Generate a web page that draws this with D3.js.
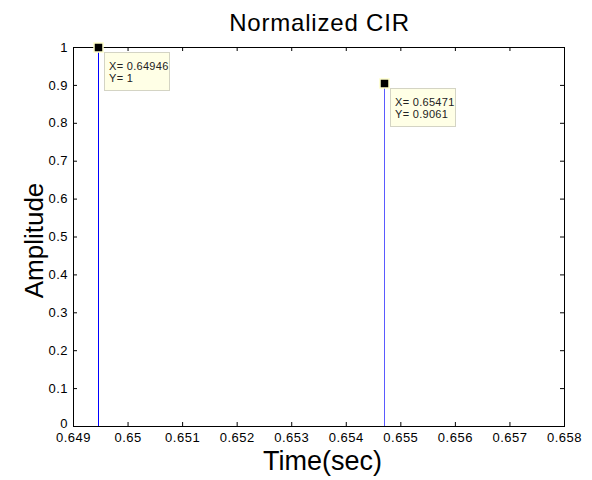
<!DOCTYPE html>
<html>
<head>
<meta charset="utf-8">
<script src="https://cdn.jsdelivr.net/npm/d3@7"></script>
<style>
  body { margin: 0; background: #fff; }
  svg { font-family: "Liberation Sans", Arial, sans-serif; }
</style>
</head>
<body>
<div id="chart"></div>
<script>
// data
const times = [0.64946, 0.65471];
const amplitudes = [1, 0.9061];
const stemColors = ["#0000ff", "#5a5aff"];
const xTicks = [0.649, 0.65, 0.651, 0.652, 0.653, 0.654, 0.655, 0.656, 0.657, 0.658];
const yTicks = [0, 0.1, 0.2, 0.3, 0.4, 0.5, 0.6, 0.7, 0.8, 0.9, 1];
const tipLabels = ["X= 0.64946|Y= 1", "X= 0.65471|Y= 0.9061"];

const width = 592, height = 480;
const margin = { top: 47, right: 28, bottom: 54, left: 73 };

const svg = d3.select("#chart").append("svg")
    .attr("width", width)
    .attr("height", height);

const x = d3.scaleLinear().domain([0.649, 0.658]).range([margin.left, width - margin.right]);
const y = d3.scaleLinear().domain([0, 1]).range([height - margin.bottom, margin.top]);

const x0 = margin.left, x1 = width - margin.right;
const y0 = height - margin.bottom, y1 = margin.top;

// stems
svg.selectAll(".stem")
    .data(times)
    .enter()
    .append("line")
    .attr("class", "stem")
    .attr("x1", d => Math.floor(x(d)) + 0.5)
    .attr("x2", d => Math.floor(x(d)) + 0.5)
    .attr("y1", y(0))
    .attr("y2", (d, i) => y(amplitudes[i]))
    .attr("stroke", (d, i) => stemColors[i])
    .attr("stroke-width", 1);

// axes (MATLAB style box with inward ticks)
const tickLen = 4;
const fmt = d => String(+d.toFixed(3));

svg.append("g")
    .attr("transform", `translate(0,${y0})`)
    .call(d3.axisBottom(x).tickValues(xTicks).tickSize(-tickLen).tickPadding(7).tickFormat(fmt))
    .call(g => g.select(".domain").remove());

svg.append("g")
    .attr("transform", `translate(0,${y1})`)
    .call(d3.axisTop(x).tickValues(xTicks).tickSize(-tickLen).tickFormat(""))
    .call(g => g.select(".domain").remove());

svg.append("g")
    .attr("class", "y-left")
    .attr("transform", `translate(${x0},0)`)
    .call(d3.axisLeft(y).tickValues(yTicks).tickSize(-tickLen).tickPadding(5).tickFormat(d => String(+d.toFixed(1))))
    .call(g => g.select(".domain").remove());

svg.append("g")
    .attr("transform", `translate(${x1},0)`)
    .call(d3.axisRight(y).tickValues(yTicks).tickSize(-tickLen).tickFormat(""))
    .call(g => g.select(".domain").remove());

svg.selectAll(".tick text")
    .attr("font-size", 13)
    .attr("letter-spacing", 0.5)
    .attr("fill", "#000");
svg.selectAll(".tick line").attr("stroke", "#000");

// lift the "0" label a little so it clears the first x label
svg.selectAll(".y-left .tick text")
    .filter(d => d === 0)
    .attr("y", -3);

svg.append("rect")
    .attr("x", x0 + 0.5)
    .attr("y", y1 + 0.5)
    .attr("width", x1 - x0)
    .attr("height", y0 - y1)
    .attr("fill", "none")
    .attr("stroke", "#000")
    .attr("stroke-width", 1);

// data tips
const tips = svg.selectAll(".tip")
    .data(times)
    .enter()
    .append("g")
    .attr("class", "tip");

tips.append("rect")
    .attr("x", d => Math.floor(x(d)) + 6.5)
    .attr("y", (d, i) => Math.round(y(amplitudes[i])) + 5.5)
    .attr("width", 65)
    .attr("height", 38)
    .attr("fill", "#ffffe6")
    .attr("stroke", "#d4d4c4")
    .attr("stroke-width", 1);

tips.each(function (d, i) {
    const lines = tipLabels[i].split("|");
    d3.select(this).selectAll("text")
        .data(lines)
        .enter()
        .append("text")
        .attr("x", Math.floor(x(d)) + 11)
        .attr("y", (t, j) => Math.round(y(amplitudes[i])) + 23 + j * 12)
        .attr("font-size", 11)
        .attr("letter-spacing", 0.3)
        .attr("fill", "#222")
        .text(t => t);
});

tips.append("rect")
    .attr("x", d => Math.floor(x(d)) - 4)
    .attr("y", (d, i) => Math.round(y(amplitudes[i])) - 4)
    .attr("width", 9)
    .attr("height", 9)
    .attr("fill", "#000")
    .attr("stroke", "#ffffcc")
    .attr("stroke-width", 1.5);

// titles
svg.append("text")
    .attr("x", (x0 + x1) / 2 + 1)
    .attr("y", 31)
    .attr("text-anchor", "middle")
    .attr("font-size", 24)
    .attr("letter-spacing", 0.8)
    .text("Normalized CIR");

svg.append("text")
    .attr("x", (x0 + x1) / 2 + 4)
    .attr("y", 470)
    .attr("text-anchor", "middle")
    .attr("font-size", 27)
    .text("Time(sec)");

svg.append("text")
    .attr("transform", `translate(43,${(y0 + y1) / 2 + 4}) rotate(-90)`)
    .attr("text-anchor", "middle")
    .attr("font-size", 26)
    .text("Amplitude");
</script>
</body>
</html>
